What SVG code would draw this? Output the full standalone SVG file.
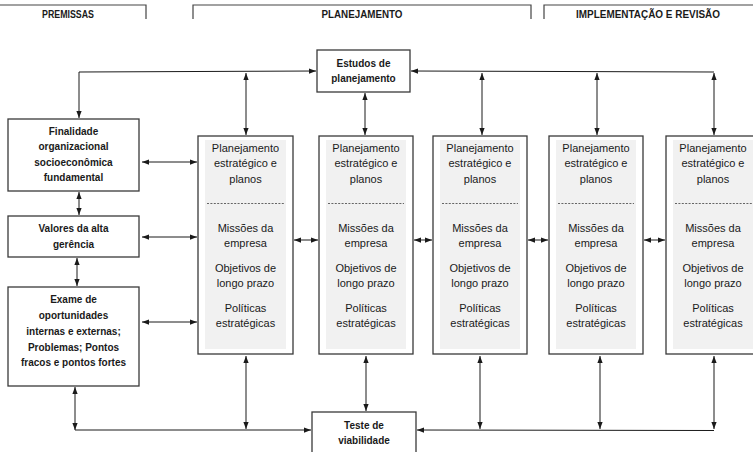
<svg xmlns="http://www.w3.org/2000/svg" width="753" height="452" viewBox="0 0 753 452">
  <defs>
    <marker id="ah" viewBox="0 0 8 6" markerWidth="7" markerHeight="5.5" refX="8" refY="3" orient="auto-start-reverse" markerUnits="userSpaceOnUse">
      <path d="M0,0 L8,3 L0,6 z" fill="#1a1a1a"/>
    </marker>
  </defs>
  <style>
    .box { fill: #ffffff; stroke: #3a3a3a; stroke-width: 1.3; }
    .inner { fill: #f1f1f1; stroke: none; }
    .dash { stroke: #555555; stroke-width: 0.9; stroke-dasharray: 2 1.4; }
    .hdr { fill: none; stroke: #444444; stroke-width: 1.2; }
    .t { font-family: "Liberation Sans", Arial, sans-serif; font-size: 11px; fill: #1a1a1a; text-anchor: middle; }
    .b { font-family: "Liberation Sans", Arial, sans-serif; font-size: 10px; font-weight: bold; fill: #1a1a1a; text-anchor: middle; }
    .h { font-family: "Liberation Sans", Arial, sans-serif; font-size: 10px; font-weight: bold; fill: #1a1a1a; text-anchor: middle; }
    .c { fill: none; stroke: #1a1a1a; stroke-width: 1; }
    .c2 { fill: none; stroke: #1a1a1a; stroke-width: 1; marker-start: url(#ah); marker-end: url(#ah); }
    .c1 { fill: none; stroke: #1a1a1a; stroke-width: 1; marker-end: url(#ah); }
  </style>
  <rect width="753" height="452" fill="#ffffff"/>

  <!-- section headers -->
  <g id="headers">
    <path class="hdr" d="M0,5 L146,5 L146,19"/>
    <text class="h" x="68" y="17.5" textLength="52" lengthAdjust="spacingAndGlyphs">PREMISSAS</text>
    <path class="hdr" d="M193,19 L193,5 L531,5 L531,19"/>
    <text class="h" x="362" y="17.5" textLength="81" lengthAdjust="spacingAndGlyphs">PLANEJAMENTO</text>
    <path class="hdr" d="M544,19 L544,5 L753,5"/>
    <text class="h" x="648" y="17.5" textLength="144" lengthAdjust="spacingAndGlyphs">IMPLEMENTAÇÃO E REVISÃO</text>
  </g>

  <!-- premise nodes -->
  <g id="finalidade">
    <rect class="box" x="8" y="119" width="131" height="72"/>
    <text class="b" x="73.5" y="134.5">Finalidade</text>
    <text class="b" x="73.5" y="150">organizacional</text>
    <text class="b" x="73.5" y="165.5">socioeconômica</text>
    <text class="b" x="73.5" y="181">fundamental</text>
  </g>
  <g id="valores">
    <rect class="box" x="8" y="216" width="131" height="41"/>
    <text class="b" x="73.5" y="232">Valores da alta</text>
    <text class="b" x="73.5" y="248">gerência</text>
  </g>
  <g id="exame">
    <rect class="box" x="8" y="287" width="131" height="99"/>
    <text class="b" x="73.5" y="302.5">Exame de</text>
    <text class="b" x="73.5" y="318.5">oportunidades</text>
    <text class="b" x="73.5" y="334.5">internas e externas;</text>
    <text class="b" x="73.5" y="350.5">Problemas; Pontos</text>
    <text class="b" x="73.5" y="366">fracos e pontos fortes</text>
  </g>

  <!-- study and feasibility nodes -->
  <g id="estudos">
    <rect class="box" x="317" y="50" width="93" height="42"/>
    <text class="b" x="363.5" y="66.5">Estudos de</text>
    <text class="b" x="363.5" y="81.5">planejamento</text>
  </g>
  <g id="teste">
    <rect class="box" x="312" y="412" width="104" height="46"/>
    <text class="b" x="364" y="428.5">Teste de</text>
    <text class="b" x="364" y="444">viabilidade</text>
  </g>

  <!-- planning columns -->
  <g id="plano1">
    <rect class="box" x="198" y="136" width="95" height="218"/>
    <rect class="inner" x="205" y="140" width="81" height="209"/>
    <line class="dash" x1="207" y1="203.5" x2="284" y2="203.5"/>
    <text class="t" x="245.5" y="152">Planejamento</text>
    <text class="t" x="245.5" y="167">estratégico e</text>
    <text class="t" x="245.5" y="182.5">planos</text>
    <text class="t" x="245.5" y="232">Missões da</text>
    <text class="t" x="245.5" y="247">empresa</text>
    <text class="t" x="245.5" y="272">Objetivos de</text>
    <text class="t" x="245.5" y="287">longo prazo</text>
    <text class="t" x="245.5" y="311.5">Políticas</text>
    <text class="t" x="245.5" y="327">estratégicas</text>
  </g>
  <g id="plano2">
    <rect class="box" x="319" y="136" width="94" height="218"/>
    <rect class="inner" x="326" y="140" width="80" height="209"/>
    <line class="dash" x1="328" y1="203.5" x2="404" y2="203.5"/>
    <text class="t" x="366" y="152">Planejamento</text>
    <text class="t" x="366" y="167">estratégico e</text>
    <text class="t" x="366" y="182.5">planos</text>
    <text class="t" x="366" y="232">Missões da</text>
    <text class="t" x="366" y="247">empresa</text>
    <text class="t" x="366" y="272">Objetivos de</text>
    <text class="t" x="366" y="287">longo prazo</text>
    <text class="t" x="366" y="311.5">Políticas</text>
    <text class="t" x="366" y="327">estratégicas</text>
  </g>
  <g id="plano3">
    <rect class="box" x="433" y="136" width="94" height="218"/>
    <rect class="inner" x="440" y="140" width="80" height="209"/>
    <line class="dash" x1="442" y1="203.5" x2="518" y2="203.5"/>
    <text class="t" x="480" y="152">Planejamento</text>
    <text class="t" x="480" y="167">estratégico e</text>
    <text class="t" x="480" y="182.5">planos</text>
    <text class="t" x="480" y="232">Missões da</text>
    <text class="t" x="480" y="247">empresa</text>
    <text class="t" x="480" y="272">Objetivos de</text>
    <text class="t" x="480" y="287">longo prazo</text>
    <text class="t" x="480" y="311.5">Políticas</text>
    <text class="t" x="480" y="327">estratégicas</text>
  </g>
  <g id="plano4">
    <rect class="box" x="549" y="136" width="94" height="218"/>
    <rect class="inner" x="556" y="140" width="80" height="209"/>
    <line class="dash" x1="558" y1="203.5" x2="634" y2="203.5"/>
    <text class="t" x="596" y="152">Planejamento</text>
    <text class="t" x="596" y="167">estratégico e</text>
    <text class="t" x="596" y="182.5">planos</text>
    <text class="t" x="596" y="232">Missões da</text>
    <text class="t" x="596" y="247">empresa</text>
    <text class="t" x="596" y="272">Objetivos de</text>
    <text class="t" x="596" y="287">longo prazo</text>
    <text class="t" x="596" y="311.5">Políticas</text>
    <text class="t" x="596" y="327">estratégicas</text>
  </g>
  <g id="plano5">
    <rect class="box" x="666" y="136" width="94" height="218"/>
    <rect class="inner" x="673" y="140" width="80" height="209"/>
    <line class="dash" x1="675" y1="203.5" x2="753" y2="203.5"/>
    <text class="t" x="713" y="152">Planejamento</text>
    <text class="t" x="713" y="167">estratégico e</text>
    <text class="t" x="713" y="182.5">planos</text>
    <text class="t" x="713" y="232">Missões da</text>
    <text class="t" x="713" y="247">empresa</text>
    <text class="t" x="713" y="272">Objetivos de</text>
    <text class="t" x="713" y="287">longo prazo</text>
    <text class="t" x="713" y="311.5">Políticas</text>
    <text class="t" x="713" y="327">estratégicas</text>
  </g>

  <!-- connectors -->
  <g id="connectors">
    <!-- upper bus to the study node -->
    <path class="c2" d="M79,118 L79,72 L316,71"/>
    <path class="c1" d="M714,72 L411,71"/>
    <line class="c2" x1="246" y1="73" x2="246" y2="135"/>
    <line class="c2" x1="365" y1="93" x2="365" y2="135"/>
    <line class="c2" x1="482" y1="73" x2="482" y2="135"/>
    <line class="c2" x1="597" y1="73" x2="597" y2="135"/>
    <line class="c2" x1="714" y1="73" x2="714" y2="135"/>

    <!-- premises to first column -->
    <line class="c2" x1="142" y1="162" x2="197" y2="162"/>
    <line class="c2" x1="142" y1="237" x2="197" y2="237"/>
    <line class="c2" x1="142" y1="322" x2="197" y2="322"/>
    <line class="c2" x1="79" y1="192" x2="79" y2="215"/>
    <line class="c2" x1="77" y1="258" x2="77" y2="286"/>
    <line class="c2" x1="75" y1="387" x2="75" y2="430"/>

    <!-- between planning columns -->
    <line class="c2" x1="294" y1="240" x2="318" y2="240"/>
    <line class="c2" x1="414" y1="240" x2="432" y2="240"/>
    <line class="c2" x1="528" y1="240" x2="548" y2="240"/>
    <line class="c2" x1="644" y1="240" x2="665" y2="240"/>

    <!-- lower bus to the feasibility node -->
    <line class="c1" x1="75" y1="430" x2="311" y2="430"/>
    <path class="c1" d="M714,430.5 L417,430"/>
    <line class="c2" x1="246" y1="356" x2="246" y2="429"/>
    <line class="c2" x1="366" y1="356" x2="366" y2="411"/>
    <line class="c2" x1="480" y1="356" x2="480" y2="429"/>
    <line class="c2" x1="600" y1="356" x2="600" y2="429"/>
    <line class="c2" x1="714" y1="356" x2="714" y2="429"/>
  </g>
</svg>
